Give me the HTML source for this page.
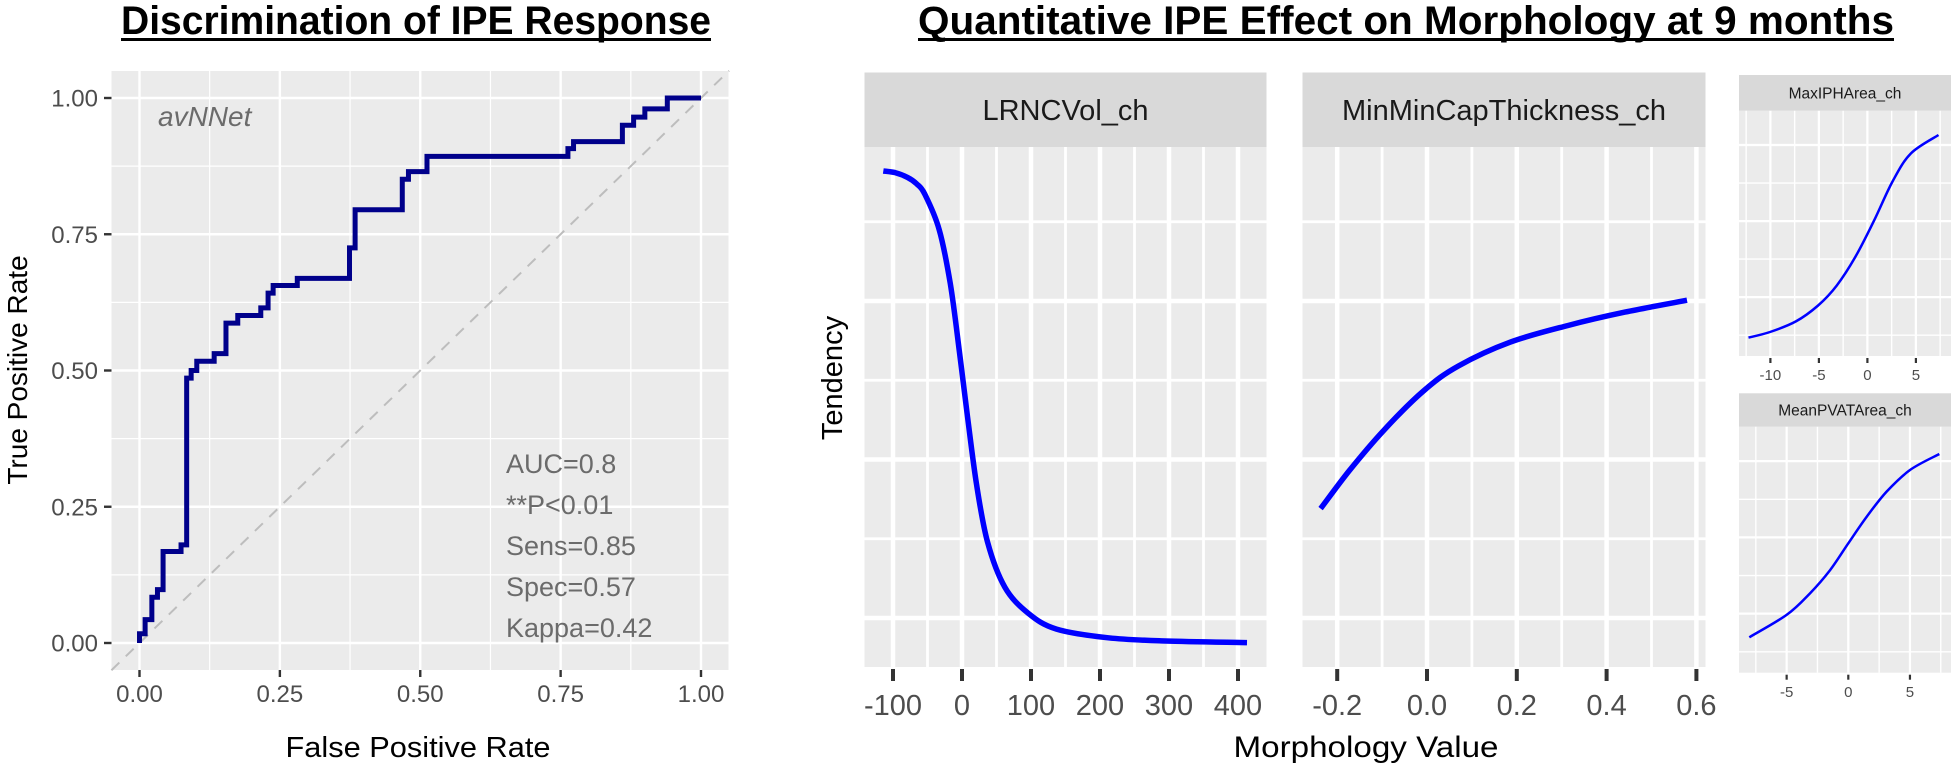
<!DOCTYPE html>
<html><head><meta charset="utf-8"><style>
html,body{margin:0;padding:0;background:#fff;}
svg{display:block;font-family:"Liberation Sans",sans-serif;}
</style></head><body>
<svg id="fig" width="1951" height="763" viewBox="0 0 1951 763" xmlns="http://www.w3.org/2000/svg">
<text x="416" y="34" font-size="40" font-weight="bold" text-anchor="middle" textLength="590" lengthAdjust="spacingAndGlyphs">Discrimination of IPE Response</text>
<rect x="121" y="38" width="590" height="3" fill="#000"/>
<text x="1406" y="34" font-size="40" font-weight="bold" text-anchor="middle" textLength="976" lengthAdjust="spacingAndGlyphs">Quantitative IPE Effect on Morphology at 9 months</text>
<rect x="918" y="38" width="976" height="3" fill="#000"/>
<g id="roc"></g>
<g id="morph"></g>
</svg>
<script>
// ROC data
const rocFpr = [0, 0.01, 0.022, 0.032, 0.042, 0.074, 0.084, 0.092, 0.102, 0.133, 0.154, 0.175, 0.216, 0.229, 0.238, 0.281, 0.374, 0.384, 0.468, 0.479, 0.512, 0.763, 0.773, 0.86, 0.88, 0.90, 0.94, 1.0];
const rocTpr = [0.017, 0.043, 0.084, 0.098, 0.168, 0.18, 0.486, 0.50, 0.517, 0.531, 0.587, 0.601, 0.615, 0.642, 0.656, 0.669, 0.725, 0.795, 0.851, 0.865, 0.893, 0.907, 0.920, 0.950, 0.965, 0.98, 1.0, 1.0];
const rocTicks = [0, 0.25, 0.5, 0.75, 1.0];
const rocTickLabels = ["0.00", "0.25", "0.50", "0.75", "1.00"];
const rocStats = ["AUC=0.8", "**P<0.01", "Sens=0.85", "Spec=0.57", "Kappa=0.42"];
// Morphology panels
const lrncX = [-114, -97, -79, -66, -54, -33, -17, -4, 8, 21, 37, 62, 96, 137, 212, 295, 413];
const lrncY = [0.764, 0.762, 0.756, 0.748, 0.735, 0.690, 0.622, 0.538, 0.454, 0.369, 0.296, 0.239, 0.206, 0.186, 0.175, 0.171, 0.169];
const lrncTicks = [-100, 0, 100, 200, 300, 400];
const capX = [-0.237, -0.173, -0.096, -0.007, 0.070, 0.185, 0.313, 0.441, 0.579];
const capY = [0.338, 0.386, 0.437, 0.487, 0.518, 0.548, 0.569, 0.586, 0.601];
const capTicks = [-0.2, 0.0, 0.2, 0.4, 0.6];
const capTickLabels = ["-0.2", "0.0", "0.2", "0.4", "0.6"];
const iphX = [-12.26, -10.04, -7.37, -5.08, -3.17, -1.26, 0.65, 2.56, 4.46, 7.33];
const iphY = [0.075, 0.098, 0.141, 0.206, 0.287, 0.403, 0.549, 0.709, 0.825, 0.901];
const iphTicks = [-10, -5, 0, 5];
const pvatX = [-8.03, -5.0, -3.1, -1.48, 0, 1.49, 3.11, 5.0, 7.38];
const pvatY = [0.144, 0.235, 0.323, 0.417, 0.526, 0.634, 0.736, 0.824, 0.889];
const pvatTicks = [-5, 0, 5];

const NS = "http://www.w3.org/2000/svg";
function mk(parent, tag, attrs, text) {
  const e = document.createElementNS(NS, tag);
  for (const k in attrs) e.setAttribute(k, attrs[k]);
  if (text !== undefined) e.textContent = text;
  parent.appendChild(e);
  return e;
}
function smoothPath(pts) {
  let d = 'M' + pts[0][0].toFixed(1) + ' ' + pts[0][1].toFixed(1);
  for (let i = 0; i < pts.length - 1; i++) {
    const p0 = pts[i - 1] || pts[i], p1 = pts[i], p2 = pts[i + 1], p3 = pts[i + 2] || p2;
    const c1 = [p1[0] + (p2[0] - p0[0]) / 6, p1[1] + (p2[1] - p0[1]) / 6];
    const c2 = [p2[0] - (p3[0] - p1[0]) / 6, p2[1] - (p3[1] - p1[1]) / 6];
    d += ' C' + c1[0].toFixed(1) + ' ' + c1[1].toFixed(1) + ' ' + c2[0].toFixed(1) + ' ' + c2[1].toFixed(1) + ' ' + p2[0].toFixed(1) + ' ' + p2[1].toFixed(1);
  }
  return d;
}

// ---------- ROC ----------
const roc = document.getElementById('roc');
const rx = v => 139.5 + v * 561.5;
const ry = v => 643 - v * 545;
let e = mk(roc, 'rect', {x: 111.5, y: 71, width: 617, height: 599, fill: '#ebebeb'});


for (let i = 0; i < rocTicks.length - 1; i++) {
  const m = (rocTicks[i] + rocTicks[i + 1]) / 2;
  e = mk(roc, 'line', {x1: rx(m), x2: rx(m), y1: 71, y2: 670, stroke: '#fff', 'stroke-width': 1.2});
  
  
  e = mk(roc, 'line', {x1: 111.5, x2: 728.5, y1: ry(m), y2: ry(m), stroke: '#fff', 'stroke-width': 1.2});
  
  
}
rocTicks.forEach((t, i) => {
  e = mk(roc, 'line', {x1: rx(t), x2: rx(t), y1: 71, y2: 670, stroke: '#fff', 'stroke-width': 2.4});
  
  
  e = mk(roc, 'line', {x1: 111.5, x2: 728.5, y1: ry(t), y2: ry(t), stroke: '#fff', 'stroke-width': 2.4});
  
  
  e = mk(roc, 'line', {x1: rx(t), x2: rx(t), y1: 670, y2: 677, stroke: '#333', 'stroke-width': 2.4});
  
  
  e = mk(roc, 'line', {x1: 104, x2: 111.5, y1: ry(t), y2: ry(t), stroke: '#333', 'stroke-width': 2.4});
  
  
  e = mk(roc, 'text', {x: rx(t), y: 702, 'font-size': 24, fill: '#4d4d4d', 'text-anchor': 'middle'}, rocTickLabels[i]);
  
  
  e = mk(roc, 'text', {x: 98, y: ry(t) + 8.5, 'font-size': 24, fill: '#4d4d4d', 'text-anchor': 'end'}, rocTickLabels[i]);
  
  
});
e = mk(roc, 'line', {x1: rx(-0.05), y1: ry(-0.05), x2: rx(1.05), y2: ry(1.05), stroke: '#bdbdbd', 'stroke-width': 2, 'stroke-dasharray': '11 9'});


let d = 'M' + rx(0) + ' ' + ry(0);
let prevY = 0;
for (let i = 0; i < rocFpr.length; i++) {
  d += ' L' + rx(rocFpr[i]) + ' ' + ry(prevY) + ' L' + rx(rocFpr[i]) + ' ' + ry(rocTpr[i]);
  prevY = rocTpr[i];
}
e = mk(roc, 'path', {d: d, fill: 'none', stroke: '#00008b', 'stroke-width': 5, 'stroke-linejoin': 'miter'});


e = mk(roc, 'text', {x: 158, y: 126, 'font-size': 28, 'font-style': 'italic', fill: '#6b6b6b'}, 'avNNet');


rocStats.forEach((s, i) => {
  e = mk(roc, 'text', {x: 506, y: 473 + i * 41, 'font-size': 27, fill: '#6b6b6b'}, s);
  
  
});
e = mk(roc, 'text', {x: 418, y: 757, 'font-size': 29, 'text-anchor': 'middle', textLength: 265, lengthAdjust: 'spacingAndGlyphs'}, 'False Positive Rate');


e = mk(roc, 'text', {x: 0, y: 0, 'font-size': 28, 'text-anchor': 'middle', transform: 'translate(27,370) rotate(-90)'}, 'True Positive Rate');



// ---------- Morphology ----------
const morph = document.getElementById('morph');
function panel(o) {
  const g = mk(morph, 'g', {});
  
  
  const sx = v => o.x0 + (v - o.t0) * o.kx;
  const sy = o.sy;
  e = mk(g, 'rect', {x: o.left, y: o.top, width: o.right - o.left, height: o.bottom - o.top, fill: '#ebebeb'});
  
  
  e = mk(g, 'rect', {x: o.left, y: o.stripTop, width: o.right - o.left, height: o.top - o.stripTop, fill: '#d9d9d9'});
  
  
  e = mk(g, 'text', {x: (o.left + o.right) / 2, y: (o.stripTop + o.top) / 2 + o.fs * 0.36, 'font-size': o.fs, fill: '#1a1a1a', 'text-anchor': 'middle'}, o.title);
  
  
  o.hgrid.forEach((v, i) => {
    const y = sy(v);
    if (y < o.top || y > o.bottom) return;
    e = mk(g, 'line', {x1: o.left, x2: o.right, y1: y, y2: y, stroke: '#fff', 'stroke-width': i % 2 ? o.gw * 1.6 : o.gw});
    
    
  });
  const step = o.ticks[1] - o.ticks[0];
  for (let v = o.ticks[0] - step * 1.5; v <= o.ticks[o.ticks.length - 1] + step * 1.5; v += step / 2) {
    const x = sx(v);
    if (x < o.left + 1 || x > o.right - 1) continue;
    const major = o.ticks.some(t => Math.abs(t - v) < step * 0.01);
    e = mk(g, 'line', {x1: x, x2: x, y1: o.top, y2: o.bottom, stroke: '#fff', 'stroke-width': major ? o.gw * 1.6 : o.gw});
    
    
  }
  o.ticks.forEach((t, i) => {
    const x = sx(t);
    e = mk(g, 'line', {x1: x, x2: x, y1: o.bottom + 2, y2: o.bottom + o.tl, stroke: '#333', 'stroke-width': o.tw});
    
    
    e = mk(g, 'text', {x: x, y: o.labelY, 'font-size': o.lfs, fill: '#4d4d4d', 'text-anchor': 'middle'}, o.labels ? o.labels[i] : String(t));
    
    
  });
  const pts = o.xs.map((v, i) => [sx(v), sy(o.ys[i])]);
  e = mk(g, 'path', {d: smoothPath(pts), fill: 'none', stroke: '#0000ff', 'stroke-width': o.lw, 'stroke-linejoin': 'round'});
  
  
}
const bigY = v => 618 - (v - 0.2) * 792.5;
panel({name: 'lrncvol-panel', title: 'LRNCVol_ch', left: 864.5, right: 1266.5, stripTop: 72.5, top: 147, bottom: 667,
  x0: 962, t0: 0, kx: 0.69, sy: bigY, hgrid: [0.3, 0.2, 0.5, 0.4, 0.7, 0.6], ticks: lrncTicks, fs: 29, lfs: 29, labelY: 715,
  gw: 2.8, tw: 4, tl: 14, lw: 5.5, xs: lrncX, ys: lrncY});
panel({name: 'minmincapthickness-panel', title: 'MinMinCapThickness_ch', left: 1302.5, right: 1705.5, stripTop: 72.5, top: 147, bottom: 667,
  x0: 1427, t0: 0, kx: 449, sy: bigY, hgrid: [0.3, 0.2, 0.5, 0.4, 0.7, 0.6], ticks: capTicks, labels: capTickLabels, fs: 29, lfs: 29, labelY: 715,
  gw: 2.8, tw: 4, tl: 14, lw: 5.5, xs: capX, ys: capY});
panel({name: 'maxipharea-panel', title: 'MaxIPHArea_ch', left: 1739, right: 1951, stripTop: 75, top: 110.7, bottom: 356,
  x0: 1867.4, t0: 0, kx: 9.7, sy: v => 356 - v * 245.3, hgrid: [0.085, 0.24, 0.395, 0.55, 0.705, 0.86], ticks: iphTicks, fs: 15.5, lfs: 15, labelY: 380,
  gw: 1.4, tw: 2.2, tl: 7, lw: 2.5, xs: iphX, ys: iphY});
panel({name: 'meanpvatarea-panel', title: 'MeanPVATArea_ch', left: 1739, right: 1951, stripTop: 393.3, top: 426.7, bottom: 672.7,
  x0: 1848.3, t0: 0, kx: 12.33, sy: v => 672.7 - v * 246, hgrid: [0.085, 0.24, 0.395, 0.55, 0.705, 0.86], ticks: pvatTicks, fs: 15.5, lfs: 15, labelY: 697,
  gw: 1.4, tw: 2.2, tl: 7, lw: 2.5, xs: pvatX, ys: pvatY});
e = mk(morph, 'text', {x: 1366, y: 757, 'font-size': 30, 'text-anchor': 'middle', textLength: 265, lengthAdjust: 'spacingAndGlyphs'}, 'Morphology Value');


e = mk(morph, 'text', {x: 0, y: 0, 'font-size': 29, 'text-anchor': 'middle', transform: 'translate(842,378) rotate(-90)'}, 'Tendency');


</script>
</body></html>
